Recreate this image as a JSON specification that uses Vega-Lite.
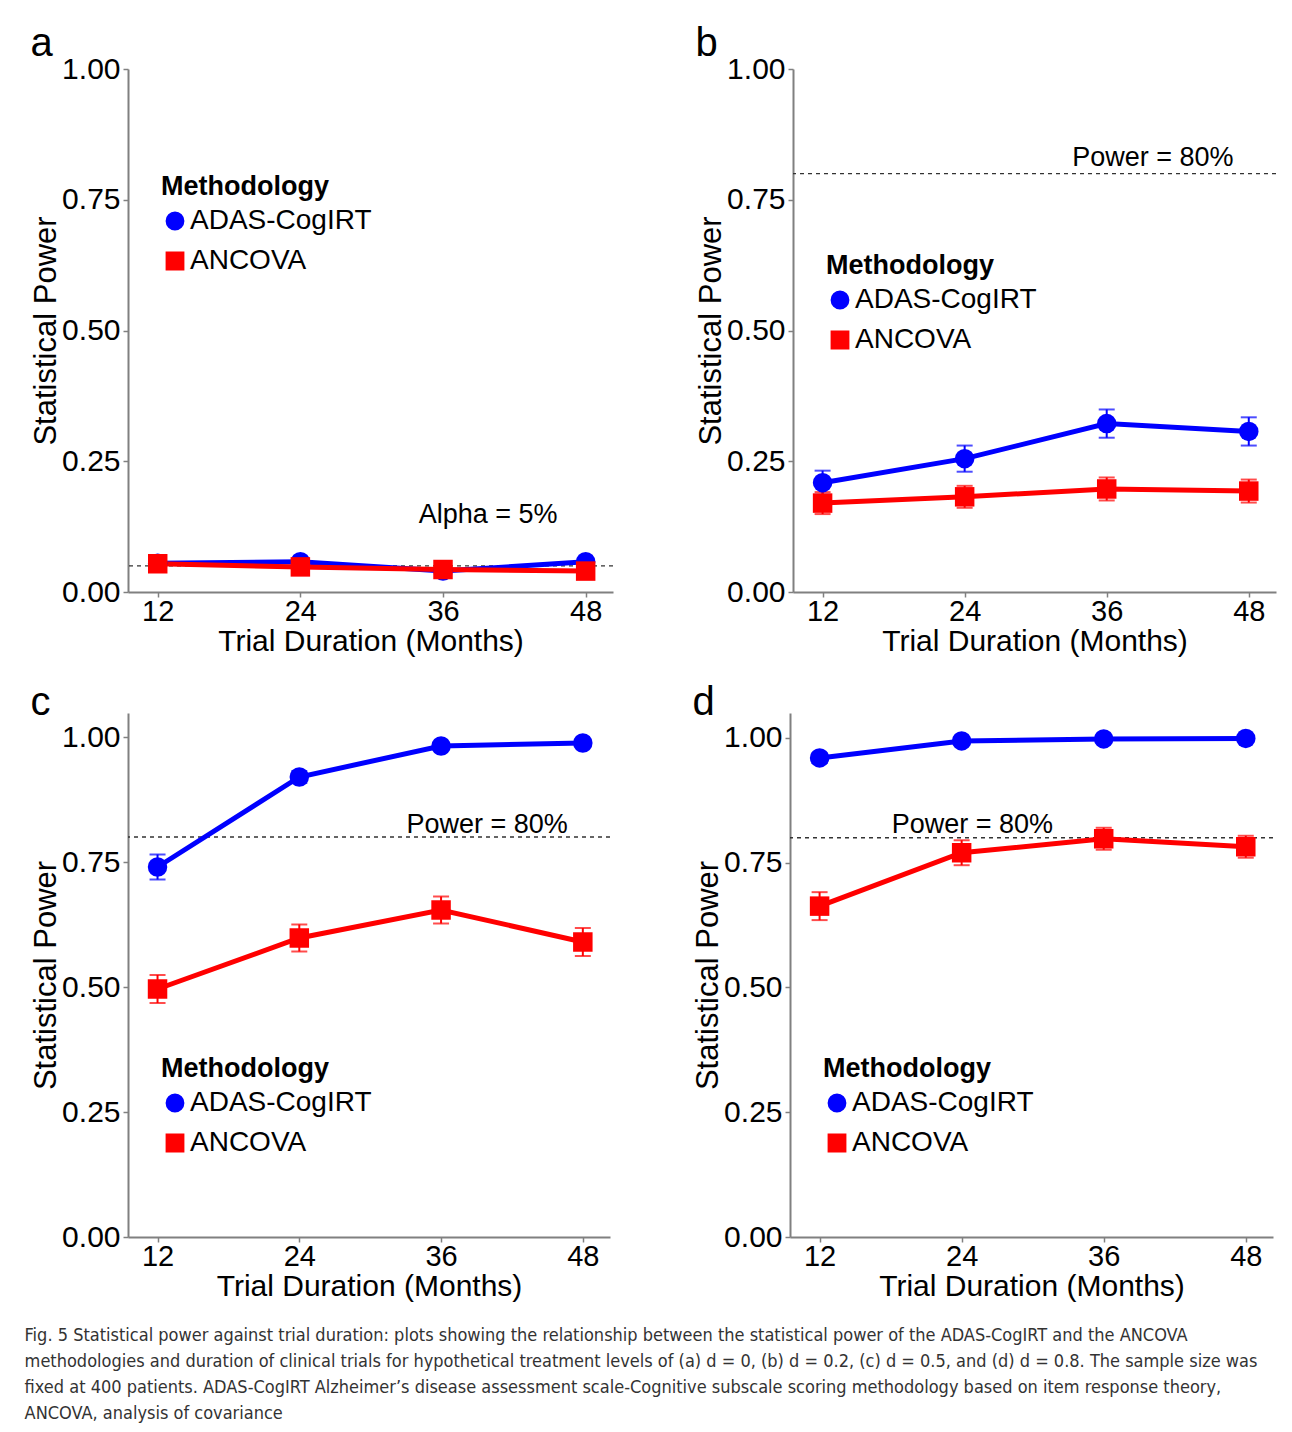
{
  "$schema": "https://vega.github.io/schema/vega-lite/v6.json",
  "padding": {"left": 24, "top": 24, "right": 6, "bottom": 6},
  "background": "white",
  "title": {
    "text": [
      "Fig. 5 Statistical power against trial duration: plots showing the relationship between the statistical power of the ADAS-CogIRT and the ANCOVA",
      "methodologies and duration of clinical trials for hypothetical treatment levels of (a) d = 0, (b) d = 0.2, (c) d = 0.5, and (d) d = 0.8. The sample size was",
      "fixed at 400 patients. ADAS-CogIRT Alzheimer’s disease assessment scale-Cognitive subscale scoring methodology based on item response theory,",
      "ANCOVA, analysis of covariance"
    ],
    "orient": "bottom",
    "anchor": "start",
    "frame": "bounds",
    "font": "DejaVu Sans Condensed",
    "fontSize": 18,
    "fontWeight": "normal",
    "lineHeight": 26,
    "color": "#333333",
    "offset": 26,
    "dx": -6
  },
  "datasets": {
    "power": [
      {"panel": "a", "method": "ADAS-CogIRT", "duration": 12, "power": 0.055, "lo": 0.048, "hi": 0.062},
      {"panel": "a", "method": "ADAS-CogIRT", "duration": 24, "power": 0.058, "lo": 0.051, "hi": 0.065},
      {"panel": "a", "method": "ADAS-CogIRT", "duration": 36, "power": 0.040, "lo": 0.034, "hi": 0.046},
      {"panel": "a", "method": "ADAS-CogIRT", "duration": 48, "power": 0.058, "lo": 0.051, "hi": 0.065},
      {"panel": "a", "method": "ANCOVA", "duration": 12, "power": 0.054, "lo": 0.047, "hi": 0.061},
      {"panel": "a", "method": "ANCOVA", "duration": 24, "power": 0.048, "lo": 0.041, "hi": 0.055},
      {"panel": "a", "method": "ANCOVA", "duration": 36, "power": 0.043, "lo": 0.036, "hi": 0.050},
      {"panel": "a", "method": "ANCOVA", "duration": 48, "power": 0.040, "lo": 0.033, "hi": 0.047},
      {"panel": "b", "method": "ADAS-CogIRT", "duration": 12, "power": 0.209, "lo": 0.186, "hi": 0.232},
      {"panel": "b", "method": "ADAS-CogIRT", "duration": 24, "power": 0.255, "lo": 0.230, "hi": 0.280},
      {"panel": "b", "method": "ADAS-CogIRT", "duration": 36, "power": 0.322, "lo": 0.295, "hi": 0.349},
      {"panel": "b", "method": "ADAS-CogIRT", "duration": 48, "power": 0.307, "lo": 0.280, "hi": 0.334},
      {"panel": "b", "method": "ANCOVA", "duration": 12, "power": 0.170, "lo": 0.149, "hi": 0.191},
      {"panel": "b", "method": "ANCOVA", "duration": 24, "power": 0.182, "lo": 0.161, "hi": 0.203},
      {"panel": "b", "method": "ANCOVA", "duration": 36, "power": 0.197, "lo": 0.175, "hi": 0.219},
      {"panel": "b", "method": "ANCOVA", "duration": 48, "power": 0.193, "lo": 0.171, "hi": 0.215},
      {"panel": "c", "method": "ADAS-CogIRT", "duration": 12, "power": 0.740, "lo": 0.715, "hi": 0.765},
      {"panel": "c", "method": "ADAS-CogIRT", "duration": 24, "power": 0.920, "lo": 0.908, "hi": 0.932},
      {"panel": "c", "method": "ADAS-CogIRT", "duration": 36, "power": 0.982, "lo": 0.976, "hi": 0.988},
      {"panel": "c", "method": "ADAS-CogIRT", "duration": 48, "power": 0.988, "lo": 0.983, "hi": 0.993},
      {"panel": "c", "method": "ANCOVA", "duration": 12, "power": 0.496, "lo": 0.468, "hi": 0.524},
      {"panel": "c", "method": "ANCOVA", "duration": 24, "power": 0.598, "lo": 0.571, "hi": 0.625},
      {"panel": "c", "method": "ANCOVA", "duration": 36, "power": 0.654, "lo": 0.627, "hi": 0.681},
      {"panel": "c", "method": "ANCOVA", "duration": 48, "power": 0.590, "lo": 0.562, "hi": 0.618},
      {"panel": "d", "method": "ADAS-CogIRT", "duration": 12, "power": 0.960, "lo": 0.950, "hi": 0.970},
      {"panel": "d", "method": "ADAS-CogIRT", "duration": 24, "power": 0.994, "lo": 0.990, "hi": 0.998},
      {"panel": "d", "method": "ADAS-CogIRT", "duration": 36, "power": 0.998, "lo": 0.996, "hi": 1.0},
      {"panel": "d", "method": "ADAS-CogIRT", "duration": 48, "power": 0.999, "lo": 0.998, "hi": 1.0},
      {"panel": "d", "method": "ANCOVA", "duration": 12, "power": 0.663, "lo": 0.635, "hi": 0.691},
      {"panel": "d", "method": "ANCOVA", "duration": 24, "power": 0.770, "lo": 0.745, "hi": 0.795},
      {"panel": "d", "method": "ANCOVA", "duration": 36, "power": 0.798, "lo": 0.776, "hi": 0.820},
      {"panel": "d", "method": "ANCOVA", "duration": 48, "power": 0.782, "lo": 0.760, "hi": 0.804}
    ]
  },
  "config": {
    "font": "Liberation Sans",
    "view": {"stroke": null},
    "axis": {
      "grid": false,
      "labelFontSize": 30,
      "titleFontSize": 31,
      "titleFontWeight": "normal",
      "labelColor": "#000000",
      "titleColor": "#000000",
      "domainColor": "#808080",
      "domainWidth": 2,
      "tickColor": "#808080",
      "tickSize": 5,
      "tickWidth": 1.5,
      "labelPadding": 3
    },
    "axisX": {"titlePadding": 0, "labelPadding": 0, "labelFontSize": 29, "titleFontSize": 30},
    "axisY": {"titlePadding": -1},
    "legend": {
      "orient": "none",
      "titleFontSize": 27,
      "titleFontWeight": "bold",
      "titleColor": "#000000",
      "labelFontSize": 28,
      "labelColor": "#000000",
      "labelLimit": 400,
      "symbolSize": 300,
      "rowPadding": 12,
      "titlePadding": 6,
      "labelOffset": 1,
      "symbolOpacity": 1
    },
    "title": {
      "fontSize": 40,
      "fontWeight": "normal",
      "anchor": "start",
      "frame": "bounds",
      "color": "#000000",
      "offset": -10
    }
  },
  "vconcat": [
    {
      "hconcat": [
        {
          "title": {"text": "a"},
          "width": 485,
          "height": 523,
          "data": {"name": "power"},
          "transform": [{"filter": "datum.panel == 'a'"}],
          "layer": [
            {"data": {"values": [{}]}, "mark": {"type": "rule", "strokeDash": [4, 4], "color": "#333333", "strokeWidth": 1.3}, "encoding": {"y": {"datum": 0.05, "type": "quantitative"}}},
            {"data": {"values": [{}]}, "mark": {"type": "text", "fontSize": 27}, "encoding": {"x": {"datum": 39.8, "type": "quantitative"}, "y": {"datum": 0.147, "type": "quantitative"}, "text": {"value": "Alpha = 5%"}}},
            {"mark": {"type": "line", "strokeWidth": 5}, "encoding": {
              "x": {"field": "duration", "type": "quantitative", "title": "Trial Duration (Months)", "scale": {"domain": [9.5, 50.3], "nice": false, "zero": false}, "axis": {"values": [12, 24, 36, 48]}},
              "y": {"field": "power", "type": "quantitative", "title": "Statistical Power", "scale": {"domain": [0, 1], "nice": false}, "axis": {"values": [0, 0.25, 0.5, 0.75, 1], "format": ".2f"}},
              "color": {"field": "method", "type": "nominal", "title": "Methodology", "scale": {"domain": ["ADAS-CogIRT", "ANCOVA"], "range": ["#0000FF", "#FF0000"]}}}},
            {"mark": {"type": "errorbar", "ticks": true, "size": 16, "thickness": 2}, "encoding": {
              "x": {"field": "duration", "type": "quantitative"},
              "y": {"field": "lo", "type": "quantitative", "title": "Statistical Power"},
              "y2": {"field": "hi"},
              "color": {"field": "method", "type": "nominal", "title": "Methodology"}}},
            {"mark": {"type": "point", "filled": true, "size": 380, "opacity": 1}, "encoding": {
              "x": {"field": "duration", "type": "quantitative"},
              "y": {"field": "power", "type": "quantitative", "title": "Statistical Power"},
              "color": {"field": "method", "type": "nominal", "title": "Methodology", "legend": {"title": "Methodology", "legendX": 33, "legendY": 105}},
              "shape": {"field": "method", "type": "nominal", "title": "Methodology", "scale": {"domain": ["ADAS-CogIRT", "ANCOVA"], "range": ["circle", "square"]}, "legend": {"title": "Methodology", "legendX": 33, "legendY": 105}}}}
          ]
        },
        {
          "title": {"text": "b"},
          "width": 483,
          "height": 523,
          "data": {"name": "power"},
          "transform": [{"filter": "datum.panel == 'b'"}],
          "layer": [
            {"data": {"values": [{}]}, "mark": {"type": "rule", "strokeDash": [4, 4], "color": "#333333", "strokeWidth": 1.3}, "encoding": {"y": {"datum": 0.8, "type": "quantitative"}}},
            {"data": {"values": [{}]}, "mark": {"type": "text", "fontSize": 27}, "encoding": {"x": {"datum": 39.9, "type": "quantitative"}, "y": {"datum": 0.83, "type": "quantitative"}, "text": {"value": "Power = 80%"}}},
            {"mark": {"type": "line", "strokeWidth": 5}, "encoding": {
              "x": {"field": "duration", "type": "quantitative", "title": "Trial Duration (Months)", "scale": {"domain": [9.5, 50.3], "nice": false, "zero": false}, "axis": {"values": [12, 24, 36, 48]}},
              "y": {"field": "power", "type": "quantitative", "title": "Statistical Power", "scale": {"domain": [0, 1], "nice": false}, "axis": {"values": [0, 0.25, 0.5, 0.75, 1], "format": ".2f"}},
              "color": {"field": "method", "type": "nominal", "title": "Methodology", "scale": {"domain": ["ADAS-CogIRT", "ANCOVA"], "range": ["#0000FF", "#FF0000"]}}}},
            {"mark": {"type": "errorbar", "ticks": true, "size": 16, "thickness": 2}, "encoding": {
              "x": {"field": "duration", "type": "quantitative"},
              "y": {"field": "lo", "type": "quantitative", "title": "Statistical Power"},
              "y2": {"field": "hi"},
              "color": {"field": "method", "type": "nominal", "title": "Methodology"}}},
            {"mark": {"type": "point", "filled": true, "size": 380, "opacity": 1}, "encoding": {
              "x": {"field": "duration", "type": "quantitative"},
              "y": {"field": "power", "type": "quantitative", "title": "Statistical Power"},
              "color": {"field": "method", "type": "nominal", "title": "Methodology", "legend": {"title": "Methodology", "legendX": 33, "legendY": 184}},
              "shape": {"field": "method", "type": "nominal", "title": "Methodology", "scale": {"domain": ["ADAS-CogIRT", "ANCOVA"], "range": ["circle", "square"]}, "legend": {"title": "Methodology", "legendX": 33, "legendY": 184}}}}
          ]
        }
      ],
      "spacing": 81,
      "resolve": {"scale": {"color": "independent", "shape": "independent", "x": "independent", "y": "independent"}, "legend": {"color": "independent", "shape": "independent"}}
    },
    {
      "hconcat": [
        {
          "title": {"text": "c"},
          "width": 482,
          "height": 524,
          "data": {"name": "power"},
          "transform": [{"filter": "datum.panel == 'c'"}],
          "layer": [
            {"data": {"values": [{}]}, "mark": {"type": "rule", "strokeDash": [4, 4], "color": "#333333", "strokeWidth": 1.3}, "encoding": {"y": {"datum": 0.8, "type": "quantitative"}}},
            {"data": {"values": [{}]}, "mark": {"type": "text", "fontSize": 27}, "encoding": {"x": {"datum": 39.9, "type": "quantitative"}, "y": {"datum": 0.824, "type": "quantitative"}, "text": {"value": "Power = 80%"}}},
            {"mark": {"type": "line", "strokeWidth": 5}, "encoding": {
              "x": {"field": "duration", "type": "quantitative", "title": "Trial Duration (Months)", "scale": {"domain": [9.5, 50.3], "nice": false, "zero": false}, "axis": {"values": [12, 24, 36, 48]}},
              "y": {"field": "power", "type": "quantitative", "title": "Statistical Power", "scale": {"domain": [0, 1.048], "nice": false}, "axis": {"values": [0, 0.25, 0.5, 0.75, 1], "format": ".2f"}},
              "color": {"field": "method", "type": "nominal", "title": "Methodology", "scale": {"domain": ["ADAS-CogIRT", "ANCOVA"], "range": ["#0000FF", "#FF0000"]}}}},
            {"mark": {"type": "errorbar", "ticks": true, "size": 16, "thickness": 2}, "encoding": {
              "x": {"field": "duration", "type": "quantitative"},
              "y": {"field": "lo", "type": "quantitative", "title": "Statistical Power"},
              "y2": {"field": "hi"},
              "color": {"field": "method", "type": "nominal", "title": "Methodology"}}},
            {"mark": {"type": "point", "filled": true, "size": 380, "opacity": 1}, "encoding": {
              "x": {"field": "duration", "type": "quantitative"},
              "y": {"field": "power", "type": "quantitative", "title": "Statistical Power"},
              "color": {"field": "method", "type": "nominal", "title": "Methodology", "legend": {"title": "Methodology", "legendX": 33, "legendY": 343}},
              "shape": {"field": "method", "type": "nominal", "title": "Methodology", "scale": {"domain": ["ADAS-CogIRT", "ANCOVA"], "range": ["circle", "square"]}, "legend": {"title": "Methodology", "legendX": 33, "legendY": 343}}}}
          ]
        },
        {
          "title": {"text": "d"},
          "width": 483,
          "height": 524,
          "data": {"name": "power"},
          "transform": [{"filter": "datum.panel == 'd'"}],
          "layer": [
            {"data": {"values": [{}]}, "mark": {"type": "rule", "strokeDash": [4, 4], "color": "#333333", "strokeWidth": 1.3}, "encoding": {"y": {"datum": 0.8, "type": "quantitative"}}},
            {"data": {"values": [{}]}, "mark": {"type": "text", "fontSize": 27}, "encoding": {"x": {"datum": 24.9, "type": "quantitative"}, "y": {"datum": 0.826, "type": "quantitative"}, "text": {"value": "Power = 80%"}}},
            {"mark": {"type": "line", "strokeWidth": 5}, "encoding": {
              "x": {"field": "duration", "type": "quantitative", "title": "Trial Duration (Months)", "scale": {"domain": [9.5, 50.3], "nice": false, "zero": false}, "axis": {"values": [12, 24, 36, 48]}},
              "y": {"field": "power", "type": "quantitative", "title": "Statistical Power", "scale": {"domain": [0, 1.05], "nice": false}, "axis": {"values": [0, 0.25, 0.5, 0.75, 1], "format": ".2f"}},
              "color": {"field": "method", "type": "nominal", "title": "Methodology", "scale": {"domain": ["ADAS-CogIRT", "ANCOVA"], "range": ["#0000FF", "#FF0000"]}}}},
            {"mark": {"type": "errorbar", "ticks": true, "size": 16, "thickness": 2}, "encoding": {
              "x": {"field": "duration", "type": "quantitative"},
              "y": {"field": "lo", "type": "quantitative", "title": "Statistical Power"},
              "y2": {"field": "hi"},
              "color": {"field": "method", "type": "nominal", "title": "Methodology"}}},
            {"mark": {"type": "point", "filled": true, "size": 380, "opacity": 1}, "encoding": {
              "x": {"field": "duration", "type": "quantitative"},
              "y": {"field": "power", "type": "quantitative", "title": "Statistical Power"},
              "color": {"field": "method", "type": "nominal", "title": "Methodology", "legend": {"title": "Methodology", "legendX": 33, "legendY": 343}},
              "shape": {"field": "method", "type": "nominal", "title": "Methodology", "scale": {"domain": ["ADAS-CogIRT", "ANCOVA"], "range": ["circle", "square"]}, "legend": {"title": "Methodology", "legendX": 33, "legendY": 343}}}}
          ]
        }
      ],
      "spacing": 81,
      "resolve": {"scale": {"color": "independent", "shape": "independent", "x": "independent", "y": "independent"}, "legend": {"color": "independent", "shape": "independent"}}
    }
  ],
  "spacing": 27,
  "resolve": {"scale": {"color": "independent", "shape": "independent", "x": "independent", "y": "independent"}, "legend": {"color": "independent", "shape": "independent"}}
}
